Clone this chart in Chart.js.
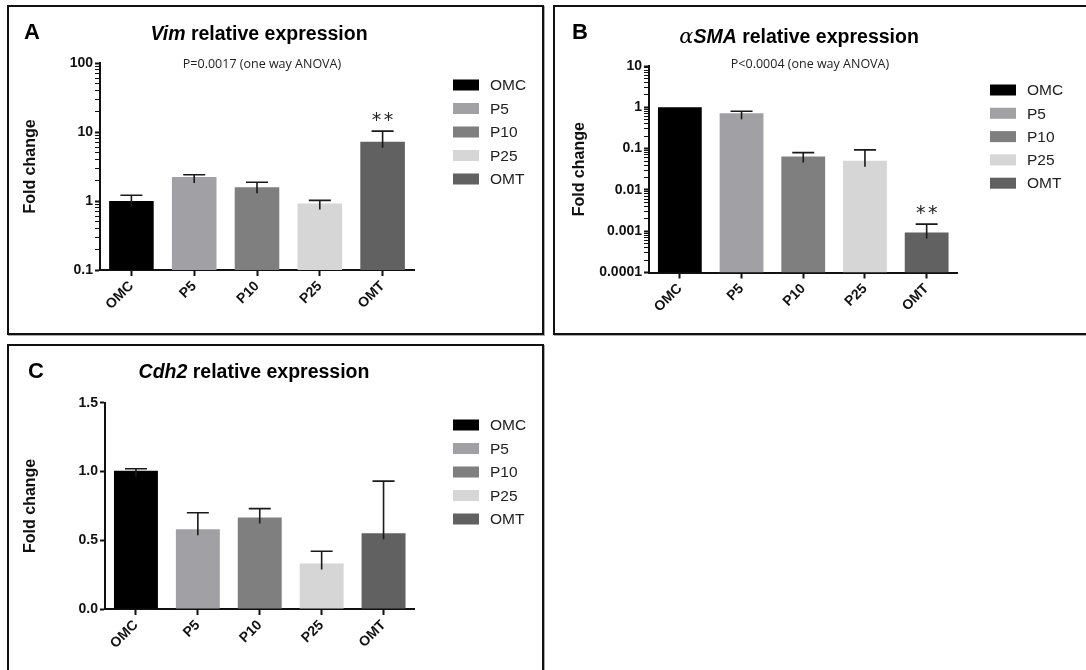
<!DOCTYPE html>
<html>
<head>
<meta charset="utf-8">
<script src="https://cdn.jsdelivr.net/npm/chart.js@4.4.1/dist/chart.umd.min.js"></script>
<style>
html, body { margin: 0; padding: 0; background: #fff; }
body { width: 1086px; height: 670px; overflow: hidden; position: relative; }
.panel { position: absolute; border: 2px solid #111; box-shadow: 1px 1px 0 #aaa; }
.panel canvas { position: absolute; left: 0; top: 0; }
</style>
</head>
<body>
<div class="panel" style="left:7px;top:5px;width:533px;height:326px"><canvas id="chartA" width="533" height="326"></canvas></div>
<div class="panel" style="left:553px;top:5px;width:560px;height:326px"><canvas id="chartB" width="531" height="326"></canvas></div>
<div class="panel" style="left:7px;top:344px;width:533px;height:340px"><canvas id="chartC" width="533" height="324"></canvas></div>
<script>
const categories = ['OMC', 'P5', 'P10', 'P25', 'OMT'];
const barColors = ['#000000', '#a1a1a5', '#7f7f7f', '#d6d6d6', '#616161'];

// A: Vim (log scale)
const vimMean = [1.0, 2.22, 1.58, 0.92, 7.2];
const vimUpper = [1.21, 2.4, 1.87, 1.02, 10.3];
const vimTicks = ['0.1', '1', '10', '100'];

// B: aSMA (log scale)
const smaMean = [1.0, 0.72, 0.064, 0.051, 0.00093];
const smaUpper = [1.0, 0.80, 0.080, 0.093, 0.00148];
const smaTicks = ['0.0001', '0.001', '0.01', '0.1', '1', '10'];

// C: Cdh2 (linear)
const cdhMean = [1.005, 0.58, 0.665, 0.33, 0.55];
const cdhUpper = [1.02, 0.70, 0.73, 0.42, 0.93];
const cdhTicks = ['0.0', '0.5', '1.0', '1.5'];

const FONT = '"Liberation Sans", Arial, sans-serif';

const isPow10 = v => {
    const e = Math.log10(v);
    return Math.abs(e - Math.round(e)) < 1e-6;
};
const isWholeSig = v => {
    const s = v / Math.pow(10, Math.floor(Math.log10(v) + 1e-9));
    return Math.abs(s - Math.round(s)) < 1e-6;
};

const decor = {
    id: 'decor',
    afterDatasetsDraw(chart, args, o) {
        const ctx = chart.ctx, y = chart.scales.y;
        const meta = chart.getDatasetMeta(0);
        ctx.save();
        ctx.strokeStyle = '#1a1a1a';
        ctx.lineWidth = 1.6;
        meta.data.forEach((bar, i) => {
            const mean = chart.data.datasets[0].data[i];
            if (o.upper[i] <= mean) return;
            const top = y.getPixelForValue(o.upper[i]);
            ctx.beginPath();
            ctx.moveTo(bar.x, bar.y + 6);
            ctx.lineTo(bar.x, top);
            ctx.moveTo(bar.x - 11, top);
            ctx.lineTo(bar.x + 11, top);
            ctx.stroke();
            if (o.stars === i) {
                ctx.fillStyle = '#222';
                ctx.font = '19px "DejaVu Sans"';
                ctx.textAlign = 'center';
                ctx.textBaseline = 'middle';
                ctx.fillText('*', bar.x - 6, top - 10);
                ctx.fillText('*', bar.x + 6, top - 10);
            }
        });
        ctx.restore();
    },
    afterDraw(chart, args, o) {
        const ctx = chart.ctx;
        ctx.save();
        ctx.fillStyle = '#000';
        ctx.textBaseline = 'alphabetic';
        ctx.textAlign = 'left';
        ctx.font = 'bold 22px ' + FONT;
        ctx.fillText(o.letter, o.letterX, o.letterY);

        // title made of styled pieces
        let w = 0;
        o.title.forEach(p => { ctx.font = p.font; w += ctx.measureText(p.text).width; });
        let x = o.titleX - w / 2;
        o.title.forEach(p => {
            ctx.font = p.font;
            ctx.fillText(p.text, x, o.titleY);
            x += ctx.measureText(p.text).width;
        });

        if (o.pText) {
            ctx.font = '12.5px "Open Sans"';
            ctx.fillStyle = '#222';
            ctx.textAlign = 'center';
            ctx.fillText(o.pText, o.pX, o.pY);
        }

        // legend
        ctx.textAlign = 'left';
        ctx.textBaseline = 'middle';
        ctx.font = '15.5px ' + FONT;
        categories.forEach((c, i) => {
            const ry = o.legY + i * o.legDy;
            ctx.fillStyle = barColors[i];
            ctx.fillRect(o.legX, ry - 5.5, 26, 11);
            ctx.fillStyle = '#222';
            ctx.fillText(c, o.legX + 37, ry + 1);
        });
        ctx.restore();
    }
};

function makeChart(id, cfg) {
    const yScale = cfg.log ? {
        type: 'logarithmic',
        min: cfg.min,
        max: cfg.max,
        ticks: {
            autoSkip: false,
            padding: 2,
            color: '#111',
            font: { family: FONT, size: 14, weight: 'bold' },
            callback: v => isPow10(v) ? cfg.tickLabels[Math.round(Math.log10(v)) - Math.round(Math.log10(cfg.min))] : ''
        },
        grid: {
            drawOnChartArea: false,
            tickLength: 5,
            tickColor: c => isWholeSig(c.tick.value) ? '#111' : 'rgba(0,0,0,0)',
            tickWidth: c => isPow10(c.tick.value) ? 2 : 1
        }
    } : {
        type: 'linear',
        min: cfg.min,
        max: cfg.max,
        ticks: {
            stepSize: 0.5,
            padding: 2,
            color: '#111',
            font: { family: FONT, size: 14, weight: 'bold' },
            callback: (v, i) => cfg.tickLabels[i]
        },
        grid: { drawOnChartArea: false, tickLength: 5, tickColor: '#111', tickWidth: 2 }
    };
    yScale.border = { display: true, color: '#111', width: 2 };
    yScale.title = { display: true, text: 'Fold change', color: '#111', font: { family: FONT, size: 16, weight: 'bold' } };
    yScale.afterFit = s => { s.width = cfg.yWidth; };

    return new Chart(document.getElementById(id), {
        type: 'bar',
        data: {
            labels: categories,
            datasets: [{
                data: cfg.mean,
                backgroundColor: barColors,
                borderWidth: 0,
                barPercentage: 0.71,
                categoryPercentage: 1
            }]
        },
        plugins: [decor],
        options: {
            responsive: false,
            animation: false,
            devicePixelRatio: 1,
            events: [],
            layout: { padding: cfg.padding },
            plugins: {
                legend: { display: false },
                tooltip: { enabled: false },
                decor: cfg.decor
            },
            scales: {
                x: {
                    ticks: {
                        minRotation: 45,
                        maxRotation: 45,
                        padding: 2,
                        color: '#111',
                        font: { family: FONT, size: 14, weight: 'bold' }
                    },
                    grid: { offset: false, drawOnChartArea: false, tickLength: 6, tickWidth: 2, tickColor: '#111' },
                    border: { display: true, color: '#111', width: 2 },
                    afterFit: s => { s.height = cfg.xHeight; }
                },
                y: yScale
            }
        }
    });
}

makeChart('chartA', {
    log: true, min: 0.1, max: 100, tickLabels: vimTicks, mean: vimMean,
    yWidth: 83, xHeight: 63,
    padding: { left: 8, top: 56, right: 128, bottom: 0 },
    decor: {
        upper: vimUpper, stars: 4,
        letter: 'A', letterX: 15, letterY: 32,
        title: [
            { text: 'Vim', font: 'italic bold 19.5px ' + FONT },
            { text: ' relative expression', font: 'bold 19.5px ' + FONT }
        ],
        titleX: 250, titleY: 33,
        pText: 'P=0.0017 (one way ANOVA)', pX: 253, pY: 61,
        legX: 444, legY: 78, legDy: 23.5
    }
});

makeChart('chartB', {
    log: true, min: 0.0001, max: 10, tickLabels: smaTicks, mean: smaMean,
    yWidth: 83, xHeight: 60.5,
    padding: { left: 11, top: 59, right: 128.5, bottom: 0 },
    decor: {
        upper: smaUpper, stars: 4,
        letter: 'B', letterX: 17, letterY: 32,
        title: [
            { text: 'α', font: 'italic 21px "DejaVu Serif"' },
            { text: 'SMA', font: 'italic bold 19.5px ' + FONT },
            { text: ' relative expression', font: 'bold 19.5px ' + FONT }
        ],
        titleX: 244, titleY: 36,
        pText: 'P<0.0004 (one way ANOVA)', pX: 255, pY: 61,
        legX: 435, legY: 83, legDy: 23.3
    }
});

makeChart('chartC', {
    log: false, min: 0, max: 1.5, tickLabels: cdhTicks, mean: cdhMean,
    yWidth: 88, xHeight: 61,
    padding: { left: 8, top: 56.7, right: 127.5, bottom: 0 },
    decor: {
        upper: cdhUpper, stars: -1,
        letter: 'C', letterX: 19, letterY: 32,
        title: [
            { text: 'Cdh2', font: 'italic bold 19.5px ' + FONT },
            { text: ' relative expression', font: 'bold 19.5px ' + FONT }
        ],
        titleX: 245, titleY: 32,
        pText: '',
        legX: 444, legY: 79, legDy: 23.5
    }
});
</script>
</body>
</html>
